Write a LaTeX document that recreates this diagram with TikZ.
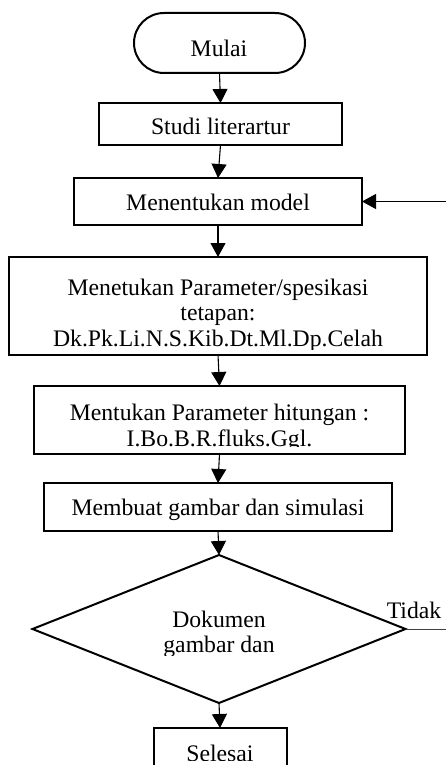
\documentclass[tikz,border=0pt]{standalone}
\usepackage{fontspec}
\setmainfont{Liberation Serif}
\usetikzlibrary{arrows.meta,shapes.geometric}
\newcommand\flowfont{\fontsize{23.7}{25.5}\selectfont}
\begin{document}
\begin{tikzpicture}[x=1pt,y=-1pt,
  box/.style={draw, line width=2pt, inner sep=0pt, outer sep=0pt},
  arr/.style={line width=1.1pt, -{Triangle[width=15pt,length=14pt]}},
  txt/.style={font=\flowfont, inner sep=0pt, anchor=base}]
\useasboundingbox (0,0) rectangle (445,765);
\fill[white] (0,0) rectangle (445,765);

% shapes
\node[box, rounded corners=30pt, minimum width=171pt, minimum height=60pt] (mulai) at (219.5,43) {};
\node[box, minimum width=243pt, minimum height=42pt] (studi) at (220.5,124) {};
\node[box, minimum width=288pt, minimum height=47pt] (model) at (218,201.5) {};
\node[box, minimum width=418pt, minimum height=98pt] (param) at (218,306) {};
\node[box, minimum width=371pt, minimum height=68pt] (hitung) at (219.5,420) {};
\node[box, minimum width=348pt, minimum height=48pt] (membuat) at (218,507) {};
\node[box, diamond, minimum width=373pt, minimum height=148pt] (dec) at (219,629) {};
\node[box, minimum width=133pt, minimum height=50pt] (selesai) at (220,753) {};

% texts
\node[txt] (tmulai) at (219,56.5) {Mulai};
\node[txt] (tstudi) at (220.5,135) {Studi literartur};
\node[txt] (tmodel) at (218,210) {Menentukan model};
\begin{scope}
  \clip (0,258) rectangle (445,349);
  \node[txt] (tparamA) at (218,295) {Menetukan Parameter/spesikasi};
  \node[txt] (tparamB) at (218,320.5) {tetapan:};
  \node[txt] (tparamC) at (218,346) {Dk.Pk.Li.N.S.Kib.Dt.Ml.Dp.Celah};
\end{scope}
\begin{scope}
  \clip (0,387) rectangle (445,446);
  \node[txt] (thitungA) at (219.5,420) {Mentukan Parameter hitungan :};
  \node[txt] (thitungB) at (219.5,446.5) {I.Bo.B.R.fluks.Ggl.};
\end{scope}
\node[txt] (tmembuat) at (218,515) {Membuat gambar dan simulasi};
\begin{scope}
  \clip (0,590) rectangle (445,655);
  \node[txt] (tdecA) at (219,627) {Dokumen};
  \node[txt] (tdecB) at (219,652) {gambar dan};
\end{scope}
\begin{scope}
  \clip (0,730) rectangle (445,760);
  \node[txt] (tselesai) at (220,761) {Selesai};
\end{scope}
\node[txt] (ttidak) at (414,618) {Tidak};

% connectors
\coordinate (loopin) at (446,201.5);
\coordinate (tidakend) at (446,629);
\draw[arr] (mulai.south) -- (studi.north);
\draw[arr] (studi.south) -- (model.north);
\draw[arr] (model.south) -- (param.north);
\draw[arr] (param.south) -- (hitung.north);
\draw[arr] (hitung.south) -- (membuat.north);
\draw[arr] (membuat.south) -- (dec.north);
\draw[arr] (dec.south) -- (selesai.north);
\draw[arr] (loopin) -- (model.east);
\draw[line width=1pt, black!75] (dec.east) -- (tidakend);
\end{tikzpicture}
\end{document}
